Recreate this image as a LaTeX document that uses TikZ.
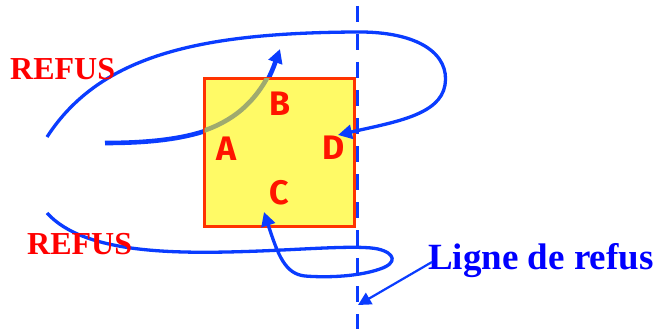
\documentclass[tikz,border=0pt]{standalone}
\usepackage{fontspec}
\usepackage{tikz}
\setmainfont{Liberation Serif}
\newfontfamily\lettrefont{Fira Sans}
\usetikzlibrary{arrows.meta, positioning}
\definecolor{refusred}{HTML}{FF0000}
\definecolor{lettrered}{HTML}{FF1400}
\definecolor{zoneyellow}{HTML}{FFFA66}
\definecolor{zonered}{HTML}{FF3300}
\definecolor{pathblue}{HTML}{0A3CFF}
\definecolor{textblue}{HTML}{0000FF}
\definecolor{pathgreen}{HTML}{9FAA6F}

\begin{document}
\begin{tikzpicture}[
    x=1pt, y=-1pt,
    zone/.style={rectangle, draw=zonered, line width=3.2pt, fill=zoneyellow, minimum width=150pt, minimum height=148pt, inner sep=0pt},
    lettre/.style={text=lettrered, font=\lettrefont\bfseries\fontsize{34}{34}\selectfont, inner sep=0pt},
    refus/.style={text=refusred, font=\bfseries\fontsize{32}{32}\selectfont, anchor=base west, inner sep=0pt},
    ligne/.style={text=textblue, font=\bfseries\fontsize{37}{37}\selectfont, anchor=base west, inner sep=0pt},
    mainarrow/.style={-{Triangle[length=14pt, width=14pt]}, line width=4.6pt, pathblue},
    looparrow/.style={-{Triangle[length=14pt, width=14pt]}, line width=3.3pt, pathblue},
    refusline/.style={line width=3.2pt, pathblue, dash pattern=on 16pt off 12pt},
    thinarrow/.style={-{Triangle[length=13pt, width=13pt]}, line width=2.2pt, pathblue}
]
\useasboundingbox (0,0) rectangle (669,329);
% free ends of the curves
\coordinate (start) at (105,143);
\coordinate (btip) at (280,49);
\coordinate (tstart) at (47,137);
\coordinate (dtip) at (338,135);
\coordinate (cstart) at (47,213);
\coordinate (ctip) at (264,212);
\coordinate (ltop) at (357.5,6);
\coordinate (lbot) at (357.5,335);
\coordinate (lstart) at (432,262);
\coordinate (ltip) at (358,305);

\draw[mainarrow] (start) .. controls (210,143) and (255,120) .. (btip);
\node[zone] (zone) at (279.5,152.5) {};
% path seen through the square
\begin{scope}
\clip ([shift={(1.6pt,-1.6pt)}]zone.north west) rectangle ([shift={(-1.6pt,1.6pt)}]zone.south east);
\draw[line width=4.6pt, pathgreen] (start) .. controls (210,143) and (255,120) .. (btip);
\end{scope}
\draw[refusline] (ltop) -- (lbot);

\node[lettre] (B) at (280,104) {B};
\node[lettre] (A) at (227,149) {A};
\node[lettre] (D) at (334,148) {D};
\node[lettre] (C) at (279,193) {C};

\draw[looparrow] (tstart) .. controls (100,55) and (200,33) .. (355,32)
    .. controls (420,31) and (450,55) .. (445,85)
    .. controls (440,115) and (395,122) .. (dtip);
\draw[looparrow] (cstart) .. controls (85,255) and (180,254) .. (260,251)
    .. controls (310,249) and (360,245) .. (378,249)
    .. controls (395,253) and (398,263) .. (380,269)
    .. controls (360,276) and (330,278) .. (305,276)
    .. controls (285,274) and (278,255) .. (ctip);

\node[refus] (refus1) at (10,79) {REFUS};
\node[refus] (refus2) at (27,254) {REFUS};
\node[ligne] (ligne) at (428,269) {Ligne de refus};
\draw[thinarrow] (lstart) -- (ltip);
\end{tikzpicture}
\end{document}
